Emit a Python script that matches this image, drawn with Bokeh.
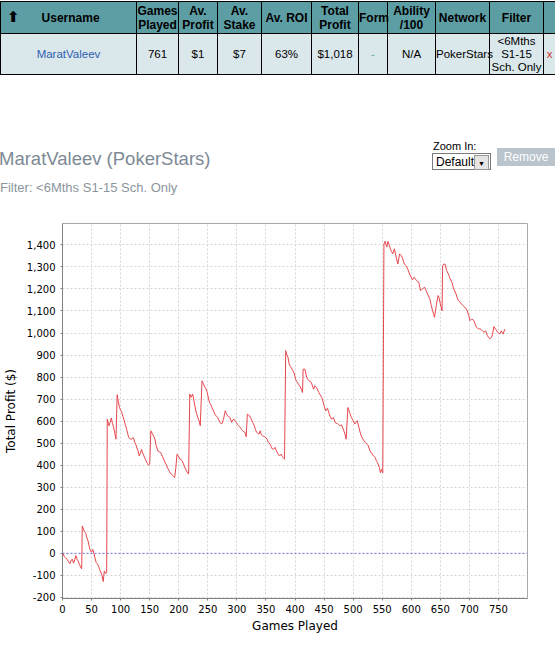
from bokeh.plotting import figure
from bokeh.models import Range1d, Span, FixedTicker, NumeralTickFormatter, Div
from bokeh.layouts import column
from bokeh.embed import file_html
from bokeh.resources import INLINE

# ---- data ----
games = [1, 3, 5, 8, 11, 13, 15, 17, 19, 21, 23, 25, 27, 29, 31, 33,
         34, 36, 38, 40, 42, 44, 46, 48, 50, 52, 54, 56, 58, 60, 62, 64, 66, 68, 70, 72, 74, 76,
         77, 79, 80, 82, 84, 86, 88, 90, 92,
         94, 96, 98, 100, 102, 104, 106, 108, 110, 112, 114, 116, 118, 120, 122, 124, 126, 128,
         130, 132, 134, 136, 138, 140, 142, 144, 146, 148, 150,
         152, 155, 157, 159, 161, 164, 166, 169, 172, 174, 176, 178, 181, 184, 187, 190, 193,
         195, 197, 200, 202, 204, 206, 209, 212, 214, 216, 217,
         219, 221, 224, 226, 228, 230, 233, 235, 237,
         240, 242, 244, 247, 249, 251, 253, 255, 257, 260, 262, 264, 267, 269, 271, 274, 277,
         280, 282, 284, 286, 288, 291, 293, 295, 297, 299, 301, 303, 306, 308, 310, 312, 314, 316,
         318, 320, 322, 324, 326, 328, 330, 332, 334, 336, 338, 340, 342, 344, 346, 348, 350,
         352, 354, 357, 359, 361, 363, 366, 368, 370, 372, 374, 376, 378, 380, 382,
         384, 386, 388, 390, 392, 395, 397, 399, 401, 403, 406, 408, 411, 413,
         414, 417, 420, 422, 424, 426, 428, 430, 432, 434, 437, 439, 441, 443, 446, 448, 450,
         453, 456, 458, 460, 463, 466, 469, 471, 473, 475, 477, 480, 483, 486, 488,
         491, 494, 497, 500, 503, 505, 507, 510, 512, 514, 517, 519, 521, 524, 526, 529, 531,
         533, 535, 538, 540, 542, 545, 547, 549, 551,
         553, 555, 557, 558, 560, 562, 564, 566, 568, 571, 574, 577, 580, 583, 585, 588, 591,
         594, 597, 600, 602, 605, 609, 613, 616, 619, 623, 626, 628, 632, 634, 636, 638, 640,
         643, 646, 648, 650, 653,
         654, 656, 658, 661, 663, 665, 667, 670, 673, 675, 677, 679, 681, 684, 686, 688, 690,
         692, 695, 697, 699, 701, 704, 706, 708, 710, 712, 714, 716, 718, 721, 723, 725, 728,
         731, 733, 735, 738, 740, 742, 745, 747, 749, 752, 755, 758, 761]
profit = [0, -15, -20, -27, -42, -47, -30, -27, -45, -30, -10, -27, -35, -50, -62, -70,
          124, 110, 98, 92, 70, 56, 30, 12, 5, 18, 0, -22, -42, -48, -58, -75, -85, -100, -128, -80, -92, -88,
          609, 590, 579, 595, 614, 590, 570, 545, 518,
          720, 690, 662, 650, 640, 620, 605, 585, 568, 545, 525, 520, 518, 522, 525, 505, 495, 478,
          465, 442, 455, 472, 455, 442, 430, 420, 408, 400, 405,
          556, 541, 530, 518, 490, 465, 462, 457, 440, 427, 415, 405, 386, 372, 359, 352, 344,
          389, 450, 438, 427, 425, 420, 400, 382, 370, 362, 360,
          723, 708, 723, 695, 665, 640, 615, 602, 579,
          783, 772, 760, 745, 730, 705, 685, 675, 662, 645, 632, 625, 617, 605, 594, 587, 609,
          647, 635, 624, 620, 617, 594, 605, 609, 600, 594, 585, 579, 571, 562, 556, 552, 549, 529,
          632, 628, 624, 612, 602, 590, 579, 562, 549, 545, 541, 556, 540, 533, 531, 529, 524,
          518, 505, 496, 485, 473, 473, 481, 465, 455, 445, 443, 450, 440, 435, 427,
          920, 900, 889, 859, 848, 836, 825, 814, 790, 780, 768, 760, 745, 730,
          836, 836, 799, 790, 783, 780, 776, 760, 745, 760, 753, 742, 730, 720, 708, 690, 670,
          647, 658, 640, 624, 609, 617, 594, 590, 589, 585, 579, 583, 564, 541, 518,
          662, 639, 617, 602, 587, 595, 602, 571, 550, 533, 518, 510, 503, 495, 488, 465, 458,
          450, 442, 435, 420, 412, 390, 366, 381, 366,
          1404, 1416, 1397, 1390, 1416, 1400, 1382, 1370, 1359, 1382, 1344, 1313, 1359, 1351, 1340, 1313, 1306,
          1290, 1268, 1253, 1241, 1253, 1238, 1230, 1192, 1200, 1208, 1190, 1177, 1155, 1130, 1109, 1090, 1071,
          1124, 1170, 1160, 1132, 1101,
          1306, 1313, 1313, 1283, 1272, 1260, 1245, 1230, 1200, 1190, 1177, 1160, 1147, 1140, 1132, 1128, 1124,
          1115, 1109, 1095, 1079, 1056, 1064, 1060, 1056, 1040, 1026, 1022, 1018, 1020, 1014, 1008, 1003, 1010,
          988, 980, 973, 980, 995, 1029, 1018, 1010, 1003, 995, 1010, 995, 1018]

x_ticks = list(range(0, 751, 50))
y_ticks = list(range(-200, 1401, 100))

header_cells = ["Games<br>Played", "Av.<br>Profit", "Av.<br>Stake", "Av. ROI", "Total<br>Profit",
                "Form", "Ability<br>/100", "Network", "Filter", ""]
row_cells = ["761", "$1", "$7", "63%", "$1,018", "-", "N/A", "PokerStars",
             "&lt;6Mths<br>S1-15<br>Sch. Only", "x"]
col_widths = [136, 42, 39, 44, 50, 47, 29, 48, 54, 54, 12]

# ---- header HTML (table, title, filter, zoom controls) ----
td = "border:1px solid #000;padding:0;text-align:center;overflow:visible;white-space:nowrap;"
cols = "".join(f'<col style="width:{w}px">' for w in col_widths)
head = (f'<tr style="height:32px;background:#5d9ea4;font-weight:bold;line-height:14px;font-size:12px;">'
        f'<td style="{td}text-align:left;"><span style="font-family:\'DejaVu Sans\';font-size:15px;margin-left:6px;">&#x2B06;</span>'
        f'<span style="margin-left:22px;">Username</span></td>'
        + "".join(f'<td style="{td}">{c}</td>' for c in header_cells) + '</tr>')
row_styles = [""] * len(row_cells)
row_styles[5] = "color:#6aa;"
row_styles[9] = "color:#c33;"
row = (f'<tr style="height:41px;background:#dae7eb;line-height:13px;font-size:11.5px;">'
       f'<td style="{td}color:#2f5fb0;">MaratValeev</td>'
       + "".join(f'<td style="{td}{s}">{c}</td>' for c, s in zip(row_cells, row_styles)) + '</tr>')

html = f'''
<div style="position:relative;width:555px;height:210px;font-family:'Liberation Sans',Arial,sans-serif;background:#fff;">
 <table style="position:absolute;left:0;top:1px;width:555px;border-collapse:collapse;table-layout:fixed;color:#000;">
  {cols}{head}{row}
 </table>
 <div style="position:absolute;left:-1px;top:146px;font-size:18.5px;color:#7d8994;white-space:nowrap;">MaratValeev (PokerStars)</div>
 <div style="position:absolute;left:0;top:179px;font-size:13px;color:#8b959d;white-space:nowrap;">Filter: &lt;6Mths S1-15 Sch. Only</div>
 <div style="position:absolute;left:433px;top:139px;font-size:11px;color:#000;">Zoom In:</div>
 <div style="position:absolute;left:432px;top:153px;width:59px;height:17px;border:1px solid #7a7a7a;background:#fff;font-size:12px;line-height:17px;">
   <span style="margin-left:3px;">Default</span>
   <div style="position:absolute;right:1px;top:1px;width:15px;height:15px;background:#e4e4e4;border:1px solid #999;box-sizing:border-box;font-size:7px;line-height:15px;text-align:center;">&#9660;</div>
 </div>
 <div style="position:absolute;left:497px;top:148px;width:58px;height:18px;background:#b9c4cc;color:#fff;font-size:12px;line-height:18px;text-align:center;">Remove</div>
</div>
'''
div = Div(text=html, width=555, height=210, margin=0)

# ---- chart ----
p = figure(width=555, height=436, x_range=Range1d(0, 800), y_range=Range1d(-205, 1497),
           output_backend="svg", toolbar_location=None,
           min_border_left=59, min_border_right=28, min_border_top=13, min_border_bottom=48,
           background_fill_color="white", border_fill_color="white")
p.line(games, profit, line_color="#e6474d", line_width=1)
p.add_layout(Span(location=0, dimension="width", line_color="#7474e0", line_dash="2 2", line_width=1))

p.outline_line_color = "#a8a8a8"
for g in (p.xgrid, p.ygrid):
    g.grid_line_color = "#d6d6d6"
    g.grid_line_dash = "2 2"
p.xaxis.ticker = FixedTicker(ticks=x_ticks)
p.yaxis.ticker = FixedTicker(ticks=y_ticks)
p.yaxis.formatter = NumeralTickFormatter(format="0,0")
p.xaxis.axis_label = "Games Played"
p.yaxis.axis_label = "Total Profit ($)"
for ax in (p.xaxis, p.yaxis):
    ax.axis_line_color = "#808080"
    ax.major_tick_line_color = "#808080"
    ax.major_tick_out = 2
    ax.major_tick_in = 0
    ax.minor_tick_line_color = None
    ax.major_label_text_font = "DejaVu Sans"
    ax.major_label_text_font_size = "10px"
    ax.major_label_text_color = "#000"
    ax.axis_label_text_font = "DejaVu Sans"
    ax.axis_label_text_font_size = "12px"
    ax.axis_label_text_font_style = "normal"
    ax.axis_label_text_color = "#000"
p.xaxis.major_label_standoff = 4
p.xaxis.axis_label_standoff = 3
p.yaxis.major_label_standoff = 5
p.yaxis.axis_label_standoff = 6

layout = column(div, p, spacing=0)
open("out.html", "w").write(file_html(layout, INLINE))
